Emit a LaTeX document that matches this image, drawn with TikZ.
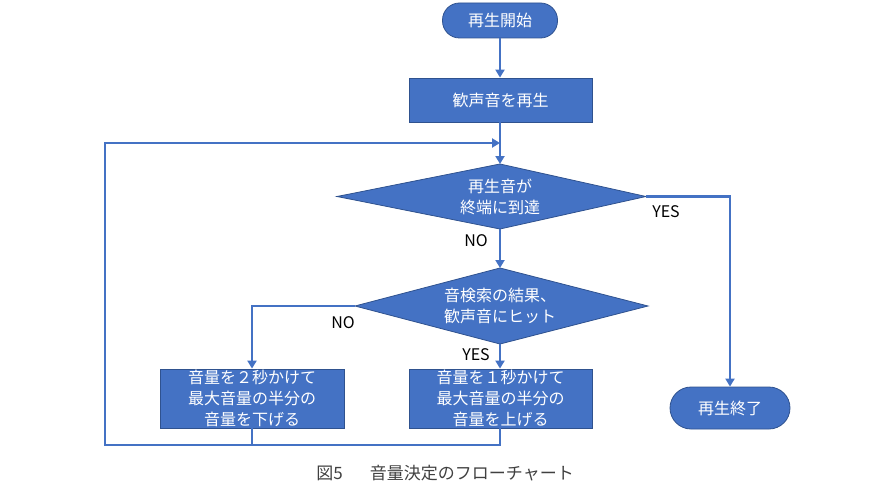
\documentclass[tikz,border=0pt]{standalone}
\usepackage{fontspec}
\setmainfont{Noto Sans CJK JP}
\usetikzlibrary{shapes.geometric,arrows.meta}
\definecolor{fc}{HTML}{4472C4}
\definecolor{bc}{HTML}{2F528F}
\definecolor{cap}{HTML}{404040}
\tikzset{
  base/.style={fill=fc,draw=bc,line width=0.8pt,text=white,font=\fontsize{16}{21}\selectfont,align=center,inner sep=0pt},
  term/.style={base,rounded corners=17pt},
  proc/.style={base},
  decshape/.style={fill=fc,draw=bc,line width=0.8pt,line join=miter},
  dectext/.style={text=white,font=\fontsize{16}{21}\selectfont,align=center,inner sep=0pt},
  conn/.style={draw=fc,line width=2.8pt},
  arr/.style={conn,-{Triangle[length=8pt,width=9pt]}},
  lbl/.style={font=\fontsize{16}{18}\selectfont,text=black,inner sep=0pt}
}
\begin{document}
\begin{tikzpicture}[x=1pt,y=-1pt]
\useasboundingbox (0,0) rectangle (890,500);
\node[term,minimum width=115pt,minimum height=35pt] (start) at (500,20.5) {再生開始};
\node[proc,minimum width=183pt,minimum height=44pt] (p1) at (500.5,100) {歓声音を再生};
% decision 1
\coordinate (d1t) at (500,164);
\coordinate (d1r) at (646,196.5);
\coordinate (d1b) at (500,229);
\coordinate (d1l) at (337,196.5);
\path[decshape] (d1t) -- (d1r) -- (d1b) -- (d1l) -- cycle;
\node[dectext] (d1) at (500,196.5) {再生音が\\終端に到達};
% decision 2
\coordinate (d2t) at (500,268);
\coordinate (d2r) at (648,306);
\coordinate (d2b) at (500,344);
\coordinate (d2l) at (355,306);
\path[decshape] (d2t) -- (d2r) -- (d2b) -- (d2l) -- cycle;
\node[dectext] (d2) at (500,306) {音検索の結果、\\歓声音にヒット};
\node[proc,minimum width=184pt,minimum height=59pt] (bl) at (252,398.5) {音量を２秒かけて\\最大音量の半分の\\音量を下げる};
\node[proc,minimum width=183pt,minimum height=59pt] (br) at (500.5,398.5) {音量を１秒かけて\\最大音量の半分の\\音量を上げる};
\node[term,minimum width=120pt,minimum height=42pt,rounded corners=21pt] (end) at (730,408) {再生終了};
\coordinate (m) at (500,143);
\coordinate (j1) at (252,445);
\coordinate (j2) at (500,445);
\coordinate (c1) at (105,445);
\coordinate (c2) at (105,143);
\draw[arr] (start.south) -- (p1.north -| start.south);
\draw[conn] (p1.south -| m) -- (m);
\draw[arr] (m) -- (d1t);
\draw[arr,line join=miter] (d1r) -| (end.north);
\draw[arr] (d1b) -- (d2t);
\draw[arr,line join=miter] (d2l) -| (bl.north);
\draw[arr] (d2b) -- (br.north -| d2b);
\draw[conn] (bl.south) -- (j1);
\draw[conn,line join=miter] (br.south -| j2) -- (j2) -- (c1) -- (c2) -- ([xshift=-3pt]m);
\draw[arr] (c2) -- (m);
\node[lbl] (ly1) at (666,212) {YES};
\node[lbl] (ln1) at (476,241) {NO};
\node[lbl] (ln2) at (343,323) {NO};
\node[lbl] (ly2) at (476,355) {YES};
\node[font=\fontsize{17}{20}\selectfont,text=cap,inner sep=0pt] (cap) at (445,473) {図5\hspace{1.6em}音量決定のフローチャート};
\end{tikzpicture}
\end{document}
